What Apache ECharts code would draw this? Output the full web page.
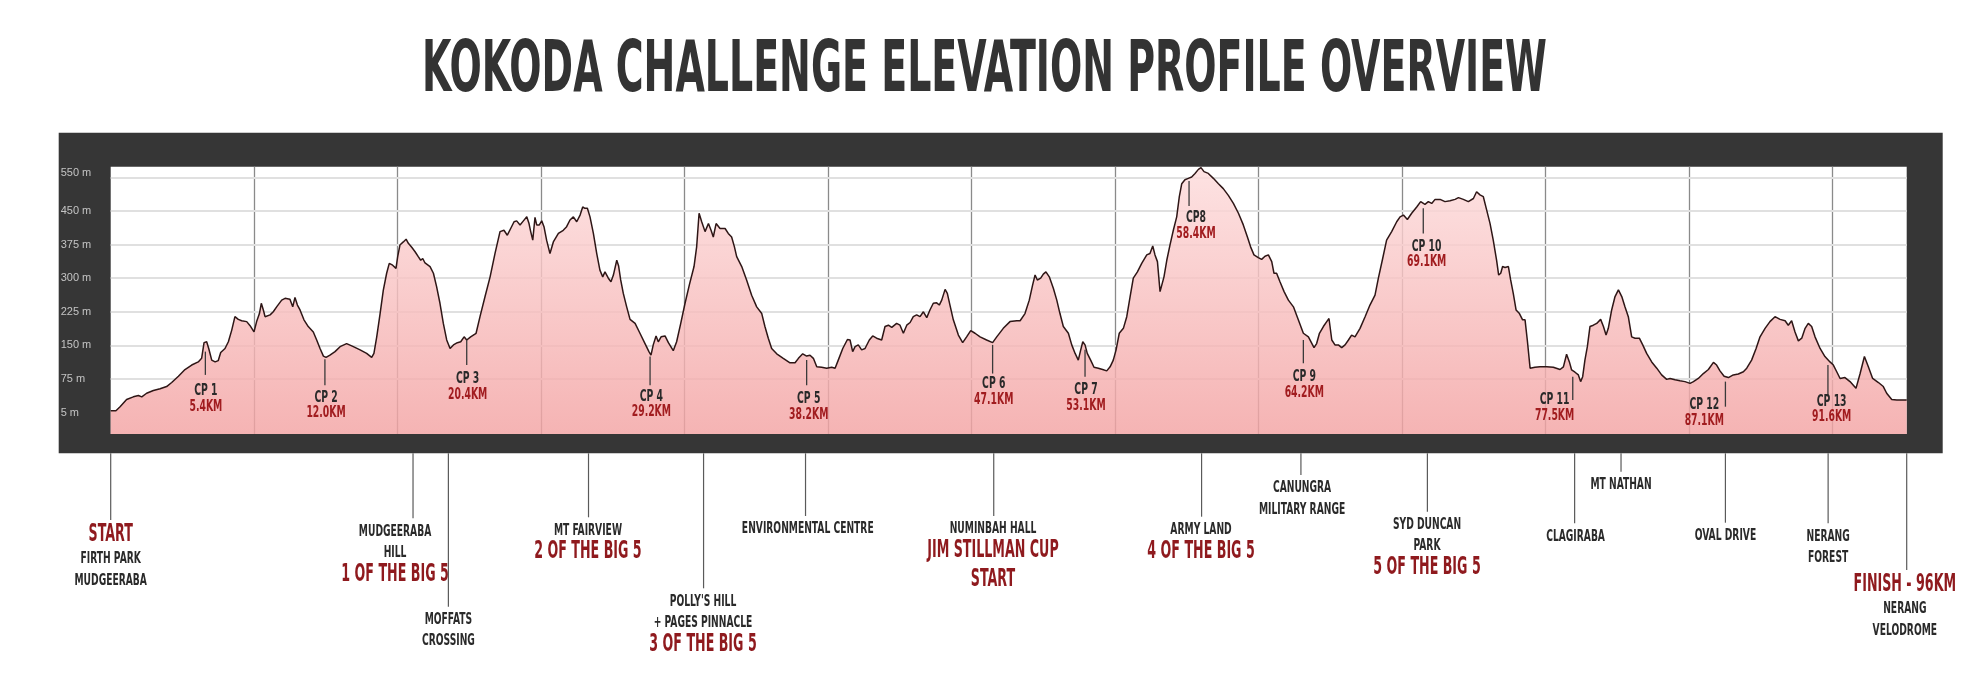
<!DOCTYPE html>
<html><head><meta charset="utf-8">
<script src="https://cdn.jsdelivr.net/npm/echarts@6/dist/echarts.min.js"></script>
<style>html,body{margin:0;padding:0;background:#fff}#c{width:1980px;height:688px}</style>
</head><body><div id="c"></div>
<script>
// ---------- DATA ----------
const titleText = 'KOKODA CHALLENGE ELEVATION PROFILE OVERVIEW';

const distanceKm = [
0,0.28,0.50,0.85,1.21,1.48,1.66,1.92,2.28,2.64,2.99,3.26,3.62,3.97,4.33,4.68,4.86,4.99,5.13,5.24,5.40,5.58,5.75,5.88,6.11,6.29,6.47,6.64,6.82,7.00,7.27,7.45,7.66,7.80,7.95,8.05,8.16,8.25,8.34,8.52,8.69,8.87,9.14,9.32,9.58,9.73,9.85,9.98,10.12,10.33,10.56,10.83,11.01,11.19,11.37,11.51,11.72,11.99,12.26,12.61,12.97,13.33,13.68,13.95,14.07,14.22,14.40,14.57,14.75,14.89,15.07,15.25,15.34,15.46,15.64,15.79,15.91,16.09,16.27,16.44,16.57,16.68,16.80,17.07,17.25,17.42,17.60,17.78,17.96,18.14,18.32,18.53,18.71,18.89,19.03,19.24,19.53,19.74,20.01,20.28,20.54,20.81,21.02,21.20,21.38,21.56,21.70,21.88,22.06,22.24,22.36,22.45,22.56,22.68,22.77,22.91,23.04,23.16,23.30,
23.48,23.66,23.93,24.19,24.37,24.55,24.73,24.91,25.09,25.23,25.35,25.48,25.62,25.80,25.98,26.15,26.30,26.42,26.60,26.74,26.87,27.05,27.15,27.26,27.40,27.58,27.76,28.03,28.29,28.56,28.77,28.88,29.00,29.15,29.27,29.42,29.63,29.81,30.07,30.25,30.47,30.70,30.93,31.18,31.32,31.45,31.59,31.77,31.95,32.09,32.21,32.36,32.57,32.84,33.01,33.19,33.34,33.46,33.73,33.99,34.26,34.53,34.80,34.97,35.15,35.33,35.60,35.95,36.31,36.58,36.76,36.99,37.20,37.38,37.56,37.74,38.00,38.27,38.54,38.72,38.89,39.13,39.38,39.52,39.66,39.79,39.96,40.14,40.32,40.55,40.73,40.94,41.21,41.39,41.57,41.75,42.01,42.19,42.37,42.55,42.73,42.90,43.08,43.26,43.44,43.62,43.79,43.97,44.15,44.29,44.42,44.60,44.72,44.86,45.04,45.31,45.54,45.75,45.97,46.20,46.47,46.82,47.14,47.36,47.71,48.07,48.43,
48.61,48.87,49.10,49.28,49.41,49.53,49.71,49.85,49.99,50.17,50.39,50.57,50.74,50.92,51.19,51.37,51.55,51.72,51.85,51.96,52.08,52.20,52.38,52.56,52.79,53.02,53.24,53.42,53.59,53.74,53.91,54.13,54.31,54.49,54.66,54.88,55.11,55.38,55.55,55.70,55.82,55.95,56.09,56.18,56.30,56.45,56.62,56.80,56.98,57.12,57.25,57.42,57.60,57.78,57.96,58.14,58.28,58.44,58.67,58.94,59.21,59.47,59.74,60.01,60.28,60.54,60.76,60.93,61.11,61.34,61.52,61.70,61.88,62.06,62.18,62.32,62.50,62.72,62.95,63.22,63.48,63.75,64.02,64.32,64.46,64.61,64.82,65.00,65.12,65.27,65.44,65.62,65.80,65.98,66.16,66.33,66.51,66.78,67.05,67.31,67.58,67.76,67.99,68.20,68.47,68.74,68.92,69.10,69.31,69.54,69.81,70.02,70.25,70.43,70.61,70.79,71.06,71.32,71.59,71.86,72.04,72.30,
72.57,72.84,73.01,73.19,73.37,73.55,73.73,73.90,74.08,74.19,74.30,74.40,74.53,74.71,74.83,74.97,75.12,75.30,75.47,75.60,75.72,75.87,76.13,76.40,76.76,77.11,77.47,77.65,77.82,77.97,78.09,78.27,78.45,78.57,78.68,78.80,78.93,79.07,79.25,79.43,79.64,79.79,79.93,80.05,80.23,80.41,80.59,80.77,80.94,81.12,81.30,81.48,81.71,81.89,82.10,82.37,82.64,82.90,83.17,83.35,83.62,83.88,84.15,84.42,84.60,84.86,85.13,85.40,85.67,85.84,86.02,86.24,86.47,86.73,87.00,87.27,87.45,87.71,87.95,88.16,88.43,88.69,88.96,89.23,89.50,89.67,89.85,90.03,90.21,90.39,90.57,90.74,90.92,91.10,91.37,91.63,91.90,92.08,92.26,92.44,92.70,92.97,93.29,93.51,93.74,93.95,94.18,94.49,94.75,94.93,95.20,95.47,96.00
];
const elevationM = [
4,4,13,29,35,38,35,43,49,53,58,67,81,96,106,113,121,156,158,143,117,113,116,134,143,158,184,214,208,205,203,194,180,203,221,244,229,214,218,218,225,236,251,255,253,236,257,240,229,207,192,180,162,143,126,123,128,136,147,154,147,140,132,123,132,169,221,273,311,333,329,322,348,374,381,387,378,369,359,348,340,344,334,326,311,281,244,199,162,143,151,156,158,169,162,169,177,214,259,303,355,404,407,396,411,426,428,419,428,437,422,404,385,436,419,419,428,415,385,
355,381,400,407,415,430,437,426,441,459,456,456,437,400,355,318,303,314,300,292,307,340,327,296,266,236,208,199,177,154,136,128,151,171,158,169,171,156,138,158,199,244,285,326,370,445,426,404,422,407,392,422,411,411,400,392,370,348,326,296,262,236,221,192,166,143,131,121,111,111,121,131,126,128,121,102,101,99,101,99,117,143,163,162,136,147,151,140,143,162,171,166,162,192,195,190,199,195,177,195,201,214,218,214,225,212,229,244,245,240,251,275,266,240,207,173,156,169,183,177,169,162,156,169,188,203,205,
205,221,251,285,307,296,300,309,314,303,277,251,221,192,177,151,132,117,140,158,151,132,117,101,99,96,93,102,117,140,177,188,214,259,300,314,333,352,355,372,352,337,270,266,303,340,374,407,437,482,511,520,523,526,534,543,547,538,534,523,511,500,485,467,445,419,392,370,352,346,342,349,352,337,311,311,292,270,251,236,207,177,169,145,154,177,192,203,210,162,151,151,145,151,162,173,169,188,214,240,262,300,344,385,404,426,437,441,431,445,459,471,465,471,467,476,476,471,473,476,480,476,
471,478,493,486,482,452,422,385,340,307,311,326,324,326,296,266,229,221,207,207,162,99,101,102,102,101,96,102,130,113,95,90,84,69,80,117,147,192,195,199,208,192,173,188,229,259,274,259,236,214,169,166,166,151,132,113,99,84,74,76,73,71,69,65,69,76,87,96,112,106,93,81,78,84,86,91,99,117,143,169,188,203,214,208,205,195,205,180,160,166,188,199,192,169,143,125,113,106,91,76,78,69,54,87,125,102,76,67,58,43,29,28,28
];

// y-axis labels (grid units: one gridline every 75)
const yTickValues = [0, 75, 150, 225, 300, 375, 450, 536];
const yTickLabels = ['5 m', '75 m', '150 m', '225 m', '300 m', '375 m', '450 m', '550 m'];
const gridValues = [75, 150, 225, 300, 375, 450, 525];

// checkpoints
const cpNames     = ['CP 1','CP 2','CP 3','CP 4','CP 5','CP 6','CP 7','CP8','CP 9','CP 10','CP 11','CP 12','CP 13'];
const cpDistances = ['5.4KM','12.0KM','20.4KM','29.2KM','38.2KM','47.1KM','53.1KM','58.4KM','64.2KM','69.1KM','77.5KM','87.1KM','91.6KM'];
const cpLineKm    = [5.06, 11.45, 19.03, 28.83, 37.20, 47.14, 52.08, 57.64, 63.75, 70.16, 78.15, 86.31, 91.79];
const cpTopM      = [136, 119, 162, 125, 117, 151, 140, 517, 162, 456, 80, 69, 106];
const cpBottomM   = [84, 61, 106, 61, 61, 87, 80, 461, 110, 400, 28, 13, 39];
const cpLabelKm   = [5.09, 11.51, 19.08, 28.90, 37.31, 47.20, 52.13, 58.01, 63.80, 70.34, 77.18, 85.18, 91.99];
const cpLabelM    = [54, 39, 80, 41, 35, 69, 55, 439, 85, 376, 34, 22, 30];

// landmarks below the chart
const annoText = [
  ['START','FIRTH PARK','MUDGEERABA'],
  ['MUDGEERABA','HILL','1 OF THE BIG 5'],
  ['MOFFATS','CROSSING'],
  ['MT FAIRVIEW','2 OF THE BIG 5'],
  ["POLLY'S HILL",'+ PAGES PINNACLE','3 OF THE BIG 5'],
  ['ENVIRONMENTAL CENTRE'],
  ['NUMINBAH HALL','JIM STILLMAN CUP','START'],
  ['ARMY LAND','4 OF THE BIG 5'],
  ['CANUNGRA','MILITARY RANGE'],
  ['SYD DUNCAN','PARK','5 OF THE BIG 5'],
  ['CLAGIRABA'],
  ['MT NATHAN'],
  ['OVAL DRIVE'],
  ['NERANG','FOREST'],
  ['FINISH - 96KM','NERANG','VELODROME']
];
const annoRed = [[0],[2],[],[1],[2],[],[1,2],[1],[],[2],[],[],[],[],[0]];
const annoKm      = [0, 16.16, 18.05, 25.54, 31.69, 37.14, 47.20, 58.31, 63.62, 70.38, 78.25, 80.73, 86.31, 91.80, 96.0];
const annoTextKm  = [0, 15.20, 18.05, 25.51, 31.66, 37.26, 47.16, 58.28, 63.68, 70.36, 78.30, 80.73, 86.31, 91.80, 95.90];
const annoLineEnd = [66.7, 65, 153.4, 64, 135, 62.7, 62.7, 63.4, 21.7, 58.4, 70, 18.4, 69.4, 70, 116.7];

// ---------- STYLE HELPERS ----------
const FAM = '"DejaVu Sans Condensed","DejaVu Sans","Liberation Sans Narrow","Liberation Sans",sans-serif';
const TITLE_FONT = 'bold 72px ' + FAM;
const BLACK_FONT = 'bold 16.5px ' + FAM;
const RED_FONT   = 'bold 24.5px ' + FAM;
const CP_FONT    = 'bold 15.5px ' + FAM;
const mctx = document.createElement('canvas').getContext('2d');
function fitScale(text, font, target) { mctx.font = font; return target / mctx.measureText(text).width; }
const titleScale = fitScale(titleText, TITLE_FONT, 1125);
const blackScale = fitScale('ENVIRONMENTAL CENTRE', BLACK_FONT, 131.8);
const redScale   = fitScale('JIM STILLMAN CUP', RED_FONT, 131.4);
const cpScale    = fitScale('12.0KM', CP_FONT, 39.3);
const BLACK = '#2a2a2a', RED = '#8f1a1e';

function txt(x, y, text, font, fill, sx) {
  return { type: 'text', x: x, y: y, scaleX: sx, silent: true,
    style: { text: text, x: 0, y: 0, font: font, fill: fill,
      align: 'center', verticalAlign: 'middle', textAlign: 'center', textVerticalAlign: 'middle' } };
}

function renderCP(params, api) {
  const i = params.dataIndex;
  const top = api.coord([api.value(0), api.value(1)]);
  const bot = api.coord([api.value(0), api.value(2)]);
  const lab = api.coord([api.value(3), api.value(4)]);
  return { type: 'group', children: [
    { type: 'line', silent: true, shape: { x1: top[0], y1: top[1], x2: bot[0], y2: bot[1] },
      style: { stroke: '#3a3a3a', lineWidth: 1.3 } },
    txt(lab[0], lab[1] + 2.5, cpNames[i], CP_FONT, BLACK, cpScale),
    txt(lab[0], lab[1] + 18.3, cpDistances[i], CP_FONT, '#a11c1f', cpScale)
  ]};
}

function renderAnno(params, api) {
  const i = params.dataIndex;
  const p0 = api.coord([api.value(0), 0]);
  const p1 = api.coord([api.value(0), api.value(1)]);
  const tx = api.coord([api.value(2), 0])[0];
  const children = [{ type: 'line', silent: true, shape: { x1: p0[0], y1: p0[1], x2: p1[0], y2: p1[1] },
    style: { stroke: '#5a5a5a', lineWidth: 1.2 } }];
  let y = p1[1];
  let prevRed = null;
  annoText[i].forEach(function (t, k) {
    const red = annoRed[i].indexOf(k) >= 0;
    if (prevRed === null) y += red ? 15 : 13;
    else if (prevRed && red) y += 29;
    else if (prevRed && !red) y += 24;
    else y += 21.5;
    children.push(red ? txt(tx, y, t, RED_FONT, RED, redScale) : txt(tx, y, t, BLACK_FONT, BLACK, blackScale));
    prevRed = red;
  });
  return { type: 'group', children: children };
}

// ---------- CHART ----------
const chart = echarts.init(document.getElementById('c'), null, { renderer: 'canvas' });
const profile = distanceKm.map(function (d, i) { return [d, elevationM[i]]; });

chart.setOption({
  animation: false,
  backgroundColor: '#ffffff',
  graphic: [
    { type: 'rect', z: -10, silent: true, shape: { x: 58.7, y: 132.7, width: 1884, height: 320.6 }, style: { fill: '#363636' } },
    { type: 'text', z: 10, x: 984.5, y: 72, scaleX: titleScale, silent: true,
      style: { text: titleText, x: 0, y: 0, font: TITLE_FONT, fill: '#333333',
        align: 'center', verticalAlign: 'middle', textAlign: 'center', textVerticalAlign: 'middle' } }
  ],
  grid: [
    { left: 110.7, right: 73.3, top: 166.7, height: 267.3, show: true, backgroundColor: '#ffffff', borderWidth: 0 },
    { left: 110.7, right: 73.3, top: 453.3, height: 234.7, show: false }
  ],
  xAxis: [
    { type: 'value', gridIndex: 0, min: 0, max: 96, interval: 7.67,
      axisLine: { show: false }, axisTick: { show: false }, axisLabel: { show: false },
      splitLine: { show: true, showMinLine: false, showMaxLine: false, lineStyle: { color: '#8a8a8a', width: 1.3 } } },
    { type: 'value', gridIndex: 1, min: 0, max: 96, show: false, splitLine: { show: false } }
  ],
  yAxis: [
    { type: 'value', gridIndex: 0, min: -48, max: 549,
      axisLine: { show: false }, axisTick: { show: false }, splitLine: { show: false },
      axisLabel: { show: true, customValues: yTickValues, align: 'left', margin: 50,
        color: '#c4c4c4', fontSize: 11, fontFamily: '"Liberation Sans",Arial,sans-serif',
        formatter: function (v) { const k = yTickValues.indexOf(v); return k >= 0 ? yTickLabels[k] : ''; } } },
    { type: 'value', gridIndex: 1, min: 0, max: 234.7, inverse: true, show: false, splitLine: { show: false } }
  ],
  series: [
    // horizontal guide lines, drawn beneath the translucent profile fill
    { type: 'line', xAxisIndex: 0, yAxisIndex: 0, data: [[0, 0]], symbol: 'none', z: 1, silent: true,
      lineStyle: { width: 0, opacity: 0 },
      markLine: { z: 1, silent: true, symbol: ['none', 'none'], label: { show: false }, animation: false,
        lineStyle: { color: '#e0e0e0', width: 2, type: 'solid' },
        data: gridValues.map(function (v) { return { yAxis: v }; }) } },
    { type: 'line', xAxisIndex: 0, yAxisIndex: 0, data: profile, showSymbol: false, symbol: 'none',
      z: 2, silent: true,
      lineStyle: { color: '#2e1616', width: 1.5 },
      areaStyle: { origin: 'start', opacity: 0.82,
        color: new echarts.graphic.LinearGradient(0, 0, 0, 1, [
          { offset: 0, color: '#fddcdc' }, { offset: 1, color: '#f3a3a3' } ]) } },
    { type: 'custom', xAxisIndex: 0, yAxisIndex: 0, z: 4, silent: true, renderItem: renderCP,
      data: cpLineKm.map(function (x, i) { return [x, cpTopM[i], cpBottomM[i], cpLabelKm[i], cpLabelM[i]]; }) },
    { type: 'custom', xAxisIndex: 1, yAxisIndex: 1, z: 4, silent: true, renderItem: renderAnno,
      data: annoKm.map(function (x, i) { return [x, annoLineEnd[i], annoTextKm[i]]; }) }
  ]
});
</script>
</body></html>
